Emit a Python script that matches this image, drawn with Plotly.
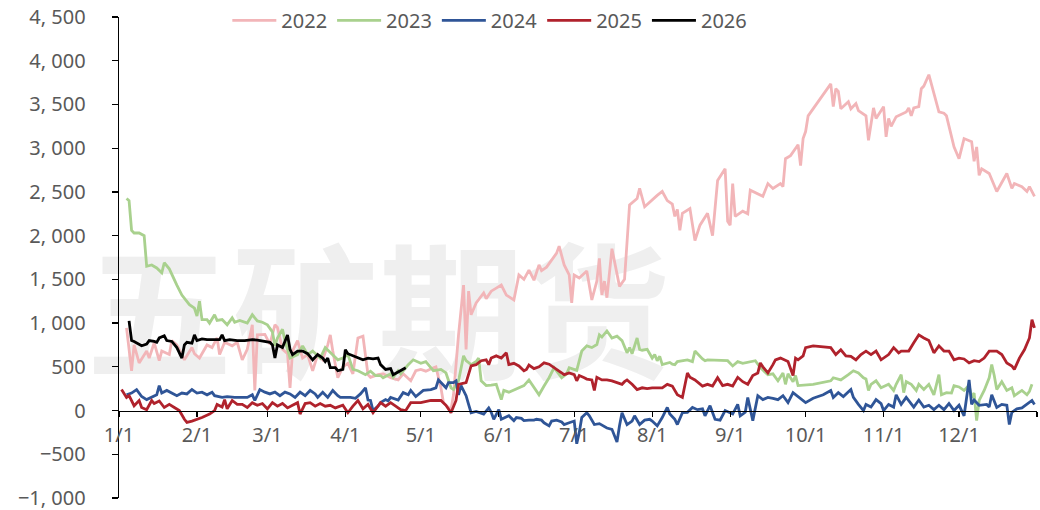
import plotly.graph_objects as go

days_2022 = [3,5,6,8,11,12,14,16,17,20,21,23,26,29,30,32,35,37,39,40,42,45,47,49,51,53,54,55,58,60,62,63,65,67,68,69,71,73,75,77,79,81,83,84,85,87,89,91,93,95,97,99,100,103,105,108,111,113,116,118,120,122,125,126,128,129,130,132,133,135,137,138,139,140,142,145,146,148,150,152,154,157,159,161,163,165,167,168,170,172,174,175,177,179,180,181,183,186,188,190,191,192,193,194,196,199,201,203,206,207,209,214,216,218,220,221,222,223,224,227,229,231,234,236,238,241,242,243,244,245,248,250,251,256,258,260,263,264,265,267,270,271,272,273,274,283,284,285,286,287,290,291,293,294,297,298,300,301,304,305,306,307,309,313,314,315,316,318,319,320,322,326,328,329,332,334,336,339,340,341,342,343,346,349,353,355,356,359,361,362,364]
vals_2022 = [945,455,750,545,680,600,775,570,680,640,800,750,580,720,650,600,750,720,830,640,780,740,780,580,700,980,230,865,870,760,980,950,700,650,260,680,800,600,640,455,640,580,750,865,680,375,500,540,420,830,850,410,380,410,420,375,350,420,340,455,470,450,490,500,260,90,60,10,180,865,1435,700,1365,1095,1230,1345,1280,1365,1400,1435,1320,1265,1550,1500,1605,1490,1665,1600,1640,1720,1800,1880,1665,1550,1230,1550,1515,1595,1265,1480,1740,1320,1480,1290,1850,1420,1500,2350,2425,2540,2330,2460,2505,2400,2360,2220,2300,2060,2255,2310,1945,2120,2255,2000,2630,2765,2165,2120,2595,2220,2280,2250,2520,2450,2595,2540,2595,2560,2880,2915,3040,2800,3110,3190,3370,3735,3475,3680,3650,3450,3530,3450,3510,3430,3370,3090,3460,3340,3475,3130,3340,3250,3360,3415,3460,3370,3460,3475,3680,3710,3840,3415,3400,3370,3015,2880,3110,3075,2850,3015,2690,2765,2710,2505,2710,2540,2595,2560,2505,2560,2450]

days_2023 = [3,4,5,6,8,10,11,13,15,17,18,20,23,25,28,30,31,32,33,35,36,38,39,41,43,45,46,48,51,53,55,57,59,61,62,63,65,66,68,71,73,75,77,80,82,84,87,89,91,93,95,98,100,102,104,105,108,109,111,112,115,117,120,122,125,128,130,132,133,135,137,138,140,142,143,144,146,148,150,152,153,155,158,161,163,165,167,169,171,173,176,178,179,182,184,186,188,190,191,192,194,196,198,200,202,203,204,206,207,208,210,212,213,214,215,216,219,220,221,222,226,228,229,232,233,234,237,239,241,242,244,246,248,251,253,255,258,260,262,264,265,266,268,269,270,276,283,284,287,290,292,294,296,297,298,299,301,303,306,308,309,311,312,313,315,317,318,320,322,324,326,327,329,331,332,334,336,338,339,340,341,342,344,346,347,348,349,351,353,355,356,359,361,362,363]
vals_2023 = [2425,2400,2060,2030,2030,2000,1650,1665,1630,1575,1690,1620,1435,1320,1210,1170,1080,1250,1040,1040,1000,1095,1030,1040,980,1060,1010,1030,1000,1095,1025,1010,980,900,740,830,930,800,600,640,740,640,680,600,720,660,580,600,640,470,455,410,450,400,400,375,420,380,455,420,525,580,540,560,455,470,430,260,240,340,625,570,525,560,600,340,285,290,300,125,230,210,250,285,350,260,180,280,375,490,375,420,490,460,680,740,720,755,865,840,910,830,850,800,660,720,650,830,700,690,700,600,640,570,620,525,550,530,525,560,580,560,680,590,570,580,575,580,575,570,510,560,540,560,570,490,410,420,340,430,300,420,330,400,285,300,340,375,350,410,455,430,375,360,230,300,340,260,300,230,300,410,205,330,300,230,300,240,300,180,410,180,205,200,285,270,230,290,150,200,-115,115,230,375,525,400,240,330,230,260,170,230,180,220,300]

days_2024 = [3,5,7,9,11,13,15,16,17,19,21,23,25,27,29,31,33,35,37,38,41,43,46,49,51,53,54,56,58,60,62,64,66,68,70,72,74,76,78,79,81,83,85,87,88,90,92,94,96,98,99,100,101,103,104,106,107,108,109,111,113,115,116,118,121,124,126,127,128,130,131,133,134,135,136,138,139,140,142,145,147,148,149,151,152,154,155,157,158,160,161,163,165,166,168,169,171,172,174,176,177,179,181,182,183,184,186,187,189,191,192,194,196,198,199,200,202,204,205,207,209,211,212,214,216,218,219,221,222,224,226,228,230,232,233,235,237,239,241,244,246,247,249,250,252,254,256,258,260,262,264,266,268,270,273,276,280,283,284,286,288,291,292,294,296,297,299,301,303,304,306,308,309,311,313,316,318,320,322,324,326,328,330,332,334,336,337,338,339,340,342,345,346,347,349,351,353,354,355,357,359,361,363,364]
vals_2024 = [180,200,240,160,125,150,180,285,200,230,200,170,200,190,240,200,210,180,210,170,150,160,150,150,150,180,115,240,210,190,210,170,210,190,150,210,170,230,190,150,210,150,230,170,150,150,150,140,190,260,120,115,0,50,90,125,110,150,140,120,205,180,230,160,230,240,260,350,320,260,320,320,340,180,285,170,70,-25,-10,-40,30,-20,-100,10,-100,-70,-60,-115,-80,-90,-115,-110,-110,-100,-110,-140,-175,-120,-110,-130,-160,-140,-120,-380,-250,-80,-25,-60,-160,-150,-170,-200,-215,-360,-175,-25,-160,-120,-60,-160,-110,-100,-120,-175,-80,35,-40,-100,-160,-25,-20,35,10,20,-60,55,-100,-110,0,-40,70,-60,-20,150,-115,170,125,150,140,125,170,90,205,160,90,140,180,230,150,205,160,240,150,70,0,70,40,125,80,0,70,40,180,70,150,40,120,40,60,10,60,10,80,0,60,-60,150,350,70,120,60,70,40,180,35,70,60,-160,-20,20,30,70,115,70]

days_2025 = [1,3,4,6,8,9,11,13,14,16,18,20,22,24,26,27,29,31,33,36,38,39,41,42,43,45,47,49,51,53,55,57,59,61,63,65,67,69,71,72,74,76,78,80,82,84,86,89,91,93,95,97,99,101,104,106,108,110,112,114,116,120,124,128,130,132,134,135,138,140,142,144,146,147,148,150,152,154,155,157,159,161,162,163,165,167,169,171,173,175,177,179,181,182,183,185,186,188,189,190,192,194,196,198,200,201,202,204,206,208,210,212,214,216,218,220,222,224,226,227,229,231,232,234,236,238,240,242,244,246,248,250,252,254,255,256,258,260,261,263,265,266,268,269,270,272,273,276,283,285,287,289,291,293,295,297,299,301,303,305,306,308,310,311,314,316,318,320,322,324,326,328,330,332,334,336,338,340,342,344,346,349,351,353,355,356,358,360,362,363,364]
vals_2025 = [240,150,170,55,115,35,10,115,80,110,35,70,35,0,-100,-135,-120,-100,-80,-40,0,70,40,125,20,115,70,70,35,90,60,80,20,90,50,80,30,60,90,-40,80,90,50,80,50,60,30,60,-25,50,115,20,70,-25,90,50,90,50,10,0,90,90,115,115,60,-25,115,300,320,510,525,570,580,525,600,625,600,660,525,540,510,455,470,520,480,500,545,530,490,455,410,430,410,340,400,375,360,350,230,380,350,350,340,320,300,330,350,300,240,260,250,260,260,260,300,280,180,150,430,380,350,300,280,300,280,375,285,300,280,380,330,300,400,430,545,500,430,525,580,600,570,560,400,600,580,625,720,740,720,640,695,625,620,580,640,680,640,680,580,620,640,720,660,680,680,775,865,830,800,660,740,680,680,580,600,590,545,570,560,600,680,680,640,545,510,470,600,695,830,1040,945]

days_2026 = [4,5,6,7,9,11,12,14,15,16,18,19,21,23,25,26,27,29,30,31,33,35,38,40,41,42,44,47,50,53,55,58,60,61,62,63,65,67,68,69,71,73,75,77,79,81,82,83,84,86,87,89,90,91,93,95,97,99,101,103,104,106,108,109,111,114]
vals_2026 = [1025,800,790,775,740,760,800,790,780,830,855,800,790,720,600,750,780,770,865,800,820,810,810,810,865,800,810,800,800,810,805,790,780,750,600,750,720,865,700,640,680,680,650,580,640,600,560,600,490,490,455,470,695,650,625,600,580,600,590,600,525,470,480,410,440,490]

series_names = ["2022", "2023", "2024", "2025", "2026"]
series_colors = ["#F2B5B8", "#A9D18E", "#2F5597", "#B0222C", "#000000"]
series_days = [days_2022, days_2023, days_2024, days_2025, days_2026]
series_vals = [vals_2022, vals_2023, vals_2024, vals_2025, vals_2026]

bad = [(n, len(d), len(v)) for n, d, v in zip(series_names, series_days, series_vals) if len(d) != len(v)]
if bad:
    raise SystemExit("LENGTH MISMATCH: " + repr(bad))

month_days = [0, 31, 59, 90, 120, 151, 181, 212, 243, 273, 304, 334, 365]
month_labels = ["1/1", "2/1", "3/1", "4/1", "5/1", "6/1", "7/1", "8/1", "9/1", "10/1", "11/1", "12/1", ""]

y_ticks = [-1000, -500, 0, 500, 1000, 1500, 2000, 2500, 3000, 3500, 4000, 4500]
y_labels = ["\u22121, 000", "\u2212500", "0", "500", "1, 000", "1, 500", "2, 000", "2, 500",
            "3, 000", "3, 500", "4, 000", "4, 500"]

y_min, y_max = -1000, 4500

fig = go.Figure()
for name, color, d, v in zip(series_names, series_colors, series_days, series_vals):
    fig.add_trace(go.Scatter(x=d, y=v, mode="lines", name=name,
                             line=dict(color=color, width=2.8), hoverinfo="skip"))

tick_font = dict(family="Noto Sans", size=20, color="#595959")

fig.update_layout(
    width=1040, height=510,
    margin=dict(l=119, r=3, t=17, b=12, autoexpand=False),
    paper_bgcolor="white", plot_bgcolor="white",
    showlegend=True,
    legend=dict(orientation="h", x=0.118, xanchor="left", y=0.993, yanchor="middle",
                font=dict(family="Noto Sans", size=20, color="#595959"),
                bgcolor="rgba(0,0,0,0)", itemwidth=44, tracegroupgap=0),
    xaxis=dict(range=[0, 365], tickmode="array", tickvals=month_days, ticktext=month_labels,
               showgrid=False, zeroline=False, showline=True, linecolor="black", linewidth=1.3,
               ticks="outside", ticklen=5, tickcolor="black", tickwidth=1.3,
               anchor="free", position=(0 - y_min) / (y_max - y_min), automargin=False,
               tickfont=tick_font, ticklabelstandoff=1, ticklabeloverflow="allow"),
    yaxis=dict(range=[y_min, y_max], tickmode="array", tickvals=y_ticks, ticktext=y_labels,
               showgrid=False, zeroline=False, showline=True, linecolor="black", linewidth=1.3,
               ticks="outside", ticklen=6, tickcolor="black", tickwidth=1.3, automargin=False,
               tickfont=tick_font, ticklabelstandoff=22, ticklabeloverflow="allow"),
    shapes=[dict(type="rect", xref="paper", yref="paper", x0=-0.025, x1=0.59, y0=0.222, y1=0.492,
                 line=dict(width=0), fillcolor="rgba(0,0,0,0)", layer="below",
                 label=dict(text="五矿期货", font=dict(family="Noto Sans CJK SC", size=146,
                                                   color="#EFEFEF", weight=700),
                            textposition="middle center"))],
)

# remove the browser's default 8px page margin so the 1040x510 figure fills the window
fig.write_html("out.html", config={"displayModeBar": False, "staticPlot": True},
               post_script="document.body.style.margin='0';")
